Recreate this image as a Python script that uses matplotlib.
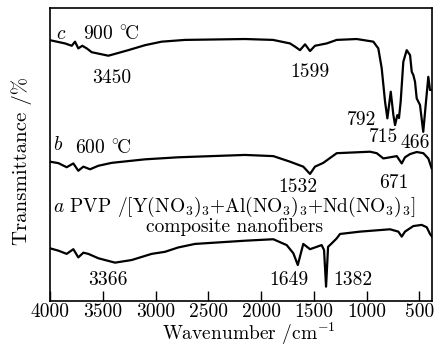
import matplotlib
matplotlib.use("Agg")
import matplotlib.pyplot as plt

plt.rcParams['font.family'] = ['cmr10', 'DejaVu Serif']
plt.rcParams['mathtext.fontset'] = 'cm'
plt.rcParams['axes.formatter.use_mathtext'] = True

# Curve c : 900 C
wn_c = [4000, 3858, 3794, 3763, 3732, 3694, 3652, 3605, 3447, 3258, 3100, 2942, 2720, 2152,
        1887, 1726, 1678, 1631, 1583, 1536, 1489, 1378, 1283, 1093, 936, 889, 857, 825, 803,
        771, 746, 730, 709, 693, 677, 652, 620, 588, 572, 557, 541, 525, 494, 463, 437, 415,
        399, 380]
T_c = [89.0, 87.9, 87.1, 88.5, 86.2, 87.1, 86.2, 84.9, 83.7, 85.6, 87.3, 88.5, 89.1, 89.4,
       89.1, 87.9, 86.8, 85.6, 87.6, 85.3, 87.1, 87.9, 89.1, 89.4, 88.5, 86.2, 79.5, 68.0, 62.3,
       71.4, 63.4, 60.0, 63.4, 62.4, 68.0, 81.6, 85.6, 83.9, 78.2, 77.1, 74.8, 69.1, 66.9, 57.7,
       68.0, 76.5, 72.0, 72.0]

# Curve b : 600 C
wn_b = [4000, 3921, 3842, 3779, 3732, 3684, 3621, 3542, 3415, 3100, 2784, 2152, 1884, 1726,
        1600, 1536, 1489, 1410, 1283, 1157, 967, 904, 841, 714, 667, 636, 588, 525, 462, 415, 383]
T_b = [47.5, 47.0, 45.6, 46.9, 44.4, 45.8, 44.9, 46.1, 47.1, 48.3, 49.0, 49.8, 49.4, 47.5,
       45.8, 43.3, 45.8, 47.1, 50.4, 50.6, 50.9, 50.4, 48.6, 49.4, 46.9, 49.0, 50.1, 50.8, 50.4,
       48.6, 45.2]

# Curve a : composite nanofibers
wn_a = [4000, 3921, 3842, 3779, 3732, 3684, 3637, 3542, 3384, 3226, 3037, 2911, 2784, 2626,
        2152, 1884, 1757, 1694, 1652, 1600, 1536, 1473, 1426, 1403, 1384, 1365, 1330, 1283, 1252,
        1062, 778, 699, 667, 636, 557, 478, 430, 399, 380]
T_a = [17.9, 17.1, 16.0, 17.6, 14.8, 16.4, 16.0, 14.5, 13.0, 13.9, 16.0, 16.7, 18.2, 19.4,
       20.5, 21.0, 19.0, 16.2, 12.2, 19.4, 17.6, 18.4, 19.0, 17.3, 4.8, 18.4, 19.6, 21.3, 22.8,
       23.6, 24.4, 23.6, 21.9, 23.6, 25.5, 25.9, 25.1, 22.8, 21.9]

xticks = [4000, 3500, 3000, 2500, 2000, 1500, 1000, 500]

fig = plt.figure(figsize=(4.45, 3.48), dpi=100)
ax = fig.add_axes([0.1124, 0.1359, 0.8584, 0.8411])

for wn, T in [(wn_c, T_c), (wn_b, T_b), (wn_a, T_a)]:
    ax.plot(wn, T, color='black', lw=1.6, solid_joinstyle='round')

ax.set_xlim(4000, 380)
ax.set_ylim(0, 100)
ax.set_xticks(xticks)
ax.set_xticklabels([str(t) for t in xticks])
ax.set_yticks([])
ax.tick_params(axis='x', direction='in', length=7, width=1, labelsize=14, pad=2)
for s in ax.spines.values():
    s.set_linewidth(1.2)

ax.set_xlabel(r'Wavenumber /cm$^{-1}$', fontsize=14, va='bottom')
ax.xaxis.set_label_coords(0.52, -0.157)
ax.set_ylabel('Transmittance /%', fontsize=15)
ax.yaxis.set_label_coords(-0.047, 0.477)

fs = 14
deg = r'$^{\circ}\!$C'
# curve c
ax.text(3896, 89.3, r'$c$', fontsize=fs, ha='center', va='baseline')
ax.text(3687, 89.1, '900 ' + deg, fontsize=fs, ha='left', va='baseline')
ax.text(3412, 74.4, '3450', fontsize=fs, ha='center', va='baseline')
ax.text(1536, 76.4, '1599', fontsize=fs, ha='center', va='baseline')
ax.text(1043, 60.0, '792', fontsize=fs, ha='center', va='baseline')
ax.text(844, 54.2, '715', fontsize=fs, ha='center', va='baseline')
ax.text(541, 52.2, '466', fontsize=fs, ha='center', va='baseline')
# curve b
ax.text(3924, 51.5, r'$b$', fontsize=fs, ha='center', va='baseline')
ax.text(3763, 50.1, '600 ' + deg, fontsize=fs, ha='left', va='baseline')
ax.text(1650, 37.1, '1532', fontsize=fs, ha='center', va='baseline')
ax.text(740, 38.5, '671', fontsize=fs, ha='center', va='baseline')
# curve a
ax.text(3972, 30.4, r'$a$ PVP /[Y(NO$_3$)$_3$+Al(NO$_3$)$_3$+Nd(NO$_3$)$_3$]',
        fontsize=fs, ha='left', va='baseline')
ax.text(2247, 23.6, 'composite nanofibers', fontsize=fs, ha='center', va='baseline')
ax.text(3450, 5.4, '3366', fontsize=fs, ha='center', va='baseline')
ax.text(1735, 5.4, '1649', fontsize=fs, ha='center', va='baseline')
ax.text(1128, 5.4, '1382', fontsize=fs, ha='center', va='baseline')

fig.savefig('out.png', dpi=100)
